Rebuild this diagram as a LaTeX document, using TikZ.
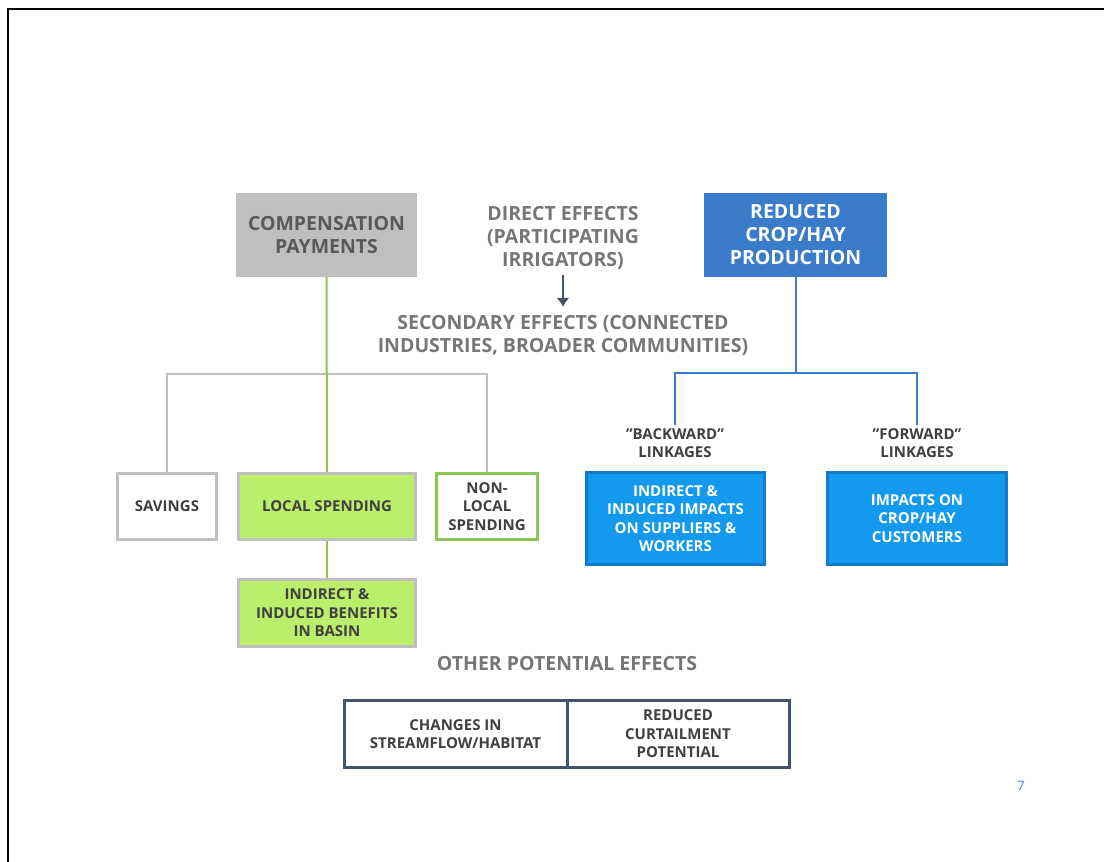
\documentclass[tikz,border=0pt]{standalone}
\usepackage{fontspec}
\setmainfont{Open Sans}
\usetikzlibrary{shapes,arrows,arrows.meta,positioning}
\definecolor{cpgray}{HTML}{BFBFBF}
\definecolor{dgray}{HTML}{595959}
\definecolor{mgray}{HTML}{767676}
\definecolor{tgray}{HTML}{404040}
\definecolor{cropblue}{HTML}{3A7CC9}
\definecolor{impblue}{HTML}{1399EE}
\definecolor{impedge}{HTML}{127ACB}
\definecolor{lgreen}{HTML}{BBEE6B}
\definecolor{egreen}{HTML}{8CC653}
\definecolor{slate}{HTML}{44546A}
\definecolor{pblue}{HTML}{4A7EC8}
\tikzset{
  big/.style={font=\bfseries\fontsize{19.5}{23}\selectfont,align=center},
  sml/.style={font=\bfseries\fontsize{15}{18.5}\selectfont,align=center},
  box/.style={sml,draw,line width=3pt,inner sep=0pt},
}
\begin{document}
\begin{tikzpicture}[x=1pt,y=-1pt,>=latex']
\useasboundingbox (0,0) rectangle (1104,862);
\draw[line width=2pt](8,862)--(8,9)--(1104,9);
% top row
\node[big,fill=cpgray,text=dgray,minimum width=181,minimum height=84](comp)at(326.5,235){COMPENSATION\\PAYMENTS};
\node[big,fill=cropblue,text=white,minimum width=183,minimum height=84](crop)at(795.5,235){REDUCED\\CROP/HAY\\PRODUCTION};
\node[big,text=mgray](direct)at(563,238){DIRECT EFFECTS\\(PARTICIPATING\\IRRIGATORS)};
\node[big,text=mgray](second)at(563,335.5){SECONDARY EFFECTS (CONNECTED\\INDUSTRIES, BROADER COMMUNITIES)};
\draw[-{Latex[length=9pt,width=13pt]},slate,line width=2pt,shorten <=2pt,shorten >=5pt](direct.south)--(second.north);
% compensation branch
\node[box,draw=cpgray,fill=white,text=tgray,minimum width=99,minimum height=66](sav)at(167,506.5){SAVINGS};
\node[box,draw=cpgray,fill=lgreen,text=tgray,minimum width=177,minimum height=66](local)at(327,506.5){LOCAL SPENDING};
\node[box,draw=egreen,fill=white,text=tgray,minimum width=101,minimum height=66](nonloc)at(487,506.5){NON-\\LOCAL\\SPENDING};
\node[box,draw=cpgray,fill=lgreen,text=tgray,minimum width=177,minimum height=67](ben)at(327,613){INDIRECT \&\\INDUCED BENEFITS\\IN BASIN};
\coordinate(gj)at(327,374);
\draw[cpgray,line width=2pt](sav.north)--(sav.north|-gj)--(nonloc.north|-gj)--(nonloc.north);
\draw[egreen,line width=2pt](comp.south)--(local.north);
\draw[egreen,line width=2pt](local.south)--(ben.north);
% crop branch
\node[sml,text=tgray,inner sep=3pt](bk)at(675,443){”BACKWARD”\\LINKAGES};
\node[sml,text=tgray,inner sep=3pt](fw)at(917,443){”FORWARD”\\LINKAGES};
\node[box,draw=impedge,fill=impblue,text=white,minimum width=178,minimum height=92](sup)at(675.5,518.5){INDIRECT \&\\INDUCED IMPACTS\\ON SUPPLIERS \&\\WORKERS};
\node[box,draw=impedge,fill=impblue,text=white,minimum width=179,minimum height=92](cust)at(917,518.5){IMPACTS ON\\CROP/HAY\\CUSTOMERS};
\coordinate(bj)at(796,373);
\draw[cropblue,line width=2pt](crop.south)--(crop.south|-bj);
\draw[cropblue,line width=2pt](bk.north)--(bk.north|-bj)--(fw.north|-bj)--(fw.north);
% other effects
\node[big,text=mgray](other)at(567,664){OTHER POTENTIAL EFFECTS};
\node[box,draw=slate,fill=white,text=tgray,minimum width=223,minimum height=67](flow)at(455.5,734){CHANGES IN\\STREAMFLOW/HABITAT};
\node[box,draw=slate,fill=white,text=tgray,minimum width=222,minimum height=67](curt)at(678,734){REDUCED\\CURTAILMENT\\POTENTIAL};
\node[font=\fontsize{13}{15}\selectfont,text=pblue](pg)at(1021,786){7};
\end{tikzpicture}
\end{document}
